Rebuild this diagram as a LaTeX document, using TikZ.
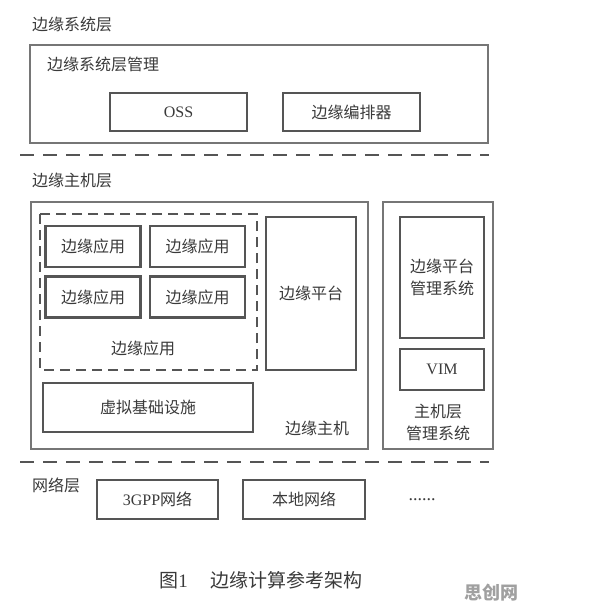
\documentclass[tikz,border=0pt]{standalone}
\usepackage{fontspec}
\setmainfont{Liberation Serif}
\newfontfamily\cjk{Noto Sans CJK SC}
\newfontfamily\lat{Liberation Serif}
\definecolor{framegray}{HTML}{767676}
\definecolor{boxgray}{HTML}{555555}
\definecolor{textgray}{HTML}{3A3A3A}
\definecolor{markgray}{HTML}{A0A0A0}

\begin{document}
\begin{tikzpicture}[x=1pt, y=-1pt,
    frame/.style={draw=framegray, line width=1.6pt},
    box/.style={draw=boxgray, line width=2.4pt, inner sep=0pt, text=textgray, font=\fontsize{16}{19}\cjk},
    lbl/.style={inner sep=0pt, text=textgray, font=\fontsize{16}{19}\cjk},
    layerline/.style={draw=boxgray, line width=2.8pt, dash pattern=on 14pt off 9pt},
    appgroup/.style={draw=boxgray, line width=2pt, dash pattern=on 10pt off 6pt}]
  \fill[white] (0,0) rectangle (596,612);
  \useasboundingbox (0,0) rectangle (596,612);

  % edge system layer
  \node[lbl, anchor=west] (syslabel) at (32,24) {边缘系统层};
  \draw[frame] (30,45) rectangle (488,143);
  \node[lbl, anchor=west] (sysmgmt) at (47,64) {边缘系统层管理};
  \node[box, minimum width=137, minimum height=38] (oss) at (178.5,112) {\lat OSS};
  \node[box, minimum width=137, minimum height=38] (orch) at (351.5,112) {边缘编排器};

  \draw[layerline] (20,155) coordinate (l1a) -- (489,155) coordinate (l1b);

  % edge host layer
  \node[lbl, anchor=west] (hostlabel) at (32,180) {边缘主机层};
  \draw[frame] (31,202) rectangle (368,449);
  \draw[frame] (383,202) rectangle (493,449);
  \draw[appgroup] (40,214) rectangle (257,370);
  \foreach \cx/\cy/\id in {93/246.5/a, 197.5/246.5/b, 93/297/c, 197.5/297/d}
    \node[box, minimum width=95, minimum height=41] (app\id) at (\cx,\cy) {边缘应用};
  \node[lbl] (applabel) at (143,348) {边缘应用};
  \node[box, minimum width=90, minimum height=153] (platform) at (311,293.5) {边缘平台};
  \node[box, minimum width=210, minimum height=49] (nfvi) at (148,407.5) {虚拟基础设施};
  \node[lbl] (hostname) at (317,428) {边缘主机};
  \node[box, minimum width=84, minimum height=121, align=center] (pms) at (442,277.5) {边缘平台\\[3pt]管理系统};
  \node[box, minimum width=84, minimum height=41] (vim) at (442,369.5) {\lat VIM};
  \node[lbl, align=center] (hostmgmt) at (438,422) {主机层\\[3pt]管理系统};

  \draw[layerline] (20,462) coordinate (l2a) -- (489,462) coordinate (l2b);

  % network layer
  \node[lbl, anchor=west] (netlabel) at (32,485) {网络层};
  \node[box, minimum width=121, minimum height=39] (gpp) at (157.5,499.5) {{\lat 3GPP}网络};
  \node[box, minimum width=122, minimum height=39] (local) at (304,499.5) {本地网络};
  \node[lbl, font=\fontsize{18}{20}\lat] (more) at (422,500) {......};

  \node[lbl, font=\fontsize{19}{22}\cjk] (caption) at (261,580) {图{\lat 1}\hspace{1.2em}边缘计算参考架构};
  \node[inner sep=0pt, text=markgray, font=\fontsize{18}{20}\cjk\bfseries] (mark) at (491,593) {思创网};
\end{tikzpicture}
\end{document}
